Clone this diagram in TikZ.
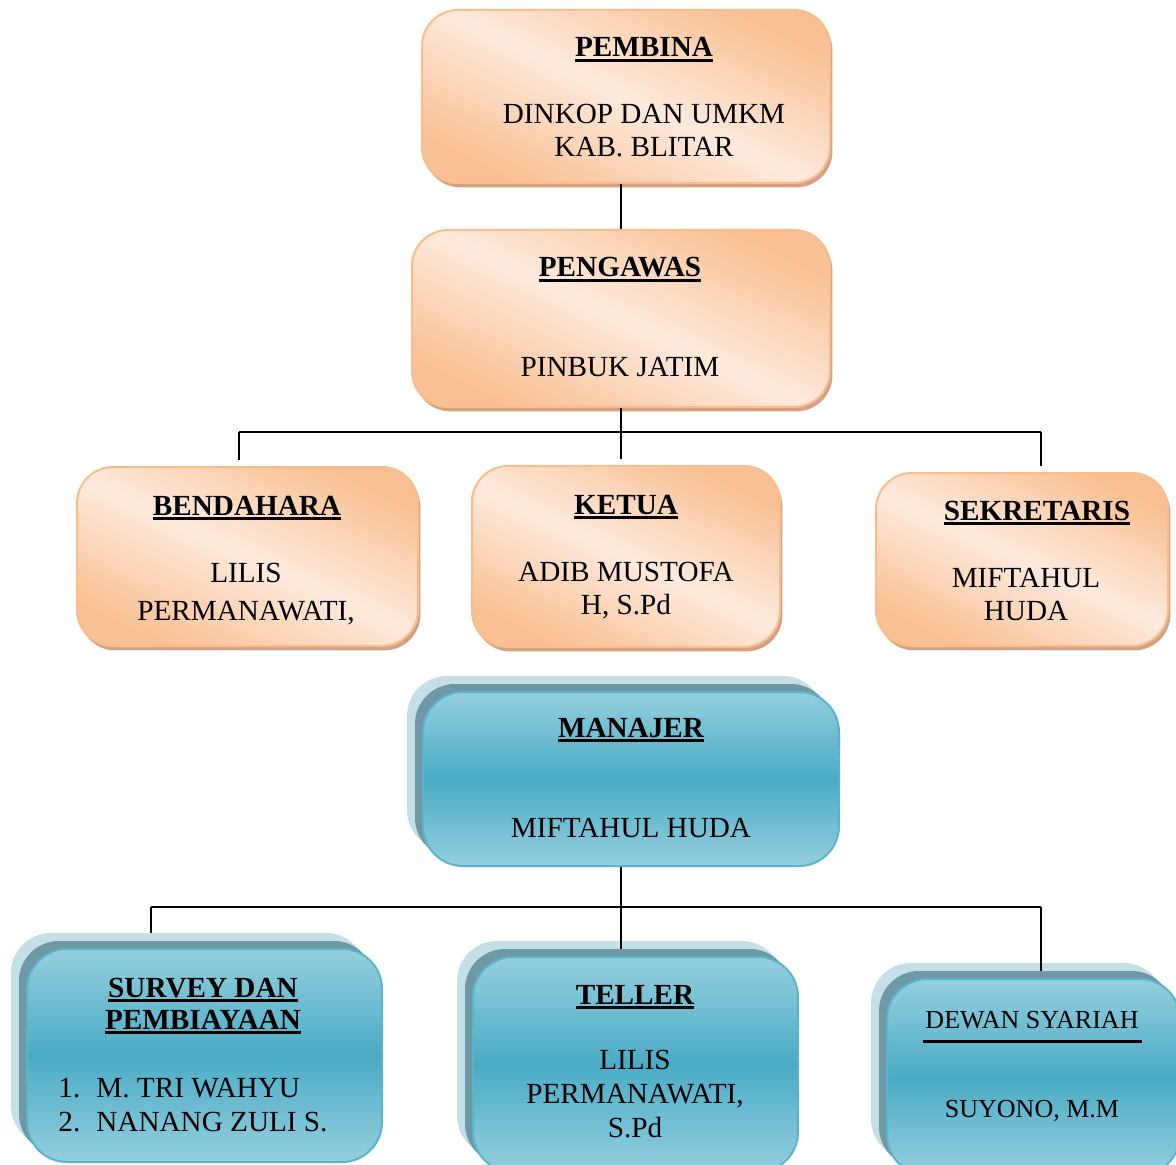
\documentclass[tikz,border=0pt]{standalone}
\usepackage{fontspec}
\setmainfont{Liberation Serif}
\usetikzlibrary{fit,shadows}
\definecolor{orD}{HTML}{F9C093}
\definecolor{orL}{HTML}{FDEADD}
\definecolor{orB}{HTML}{F9BD8D}
\definecolor{orS}{HTML}{D3A283}
\definecolor{blT}{HTML}{95CFDE}
\definecolor{blM}{HTML}{4AABC5}
\definecolor{blE}{HTML}{5BB3CB}
\definecolor{blL}{HTML}{C4DFE6}
\definecolor{blD}{HTML}{6F98A5}
\newcommand\ulb[1]{\sbox0{#1}\leavevmode\rlap{\vrule height -1pt depth 2.4pt width \wd0}\usebox0}
\newcommand\bluebox[5]{%
  \node[blayerlight, fit={(#2-16,#3-16) (#4-16,#5-16)}] (#1-l1) {};
  \node[blayerdark, fit={(#2-8,#3-8) (#4-8,#5-8)}] (#1-l2) {};
  \node[bbox, fit={(#2,#3) (#4,#5)}] (#1) {};}
\begin{document}
\begin{tikzpicture}[x=0.5pt, y=-0.5pt,
  obox/.style={draw=orB, line width=1pt, rounded corners=18pt, inner sep=0pt,
    top color=orD, bottom color=orD, middle color=orL, shading angle=-25,
    drop shadow={shadow xshift=1.2pt, shadow yshift=-2.2pt, fill=orS, opacity=1}},
  bbox/.style={draw=blE, line width=1pt, rounded corners=20pt, inner sep=0pt,
    top color=blT, bottom color=blT, middle color=blM},
  blayerlight/.style={fill=blL, rounded corners=20pt, inner sep=0pt},
  blayerdark/.style={fill=blD, rounded corners=20pt, inner sep=0pt},
  txt/.style={font=\fontsize{14.6}{17}\selectfont, align=center, inner sep=0pt, anchor=base},
  ttl/.style={txt, font=\fontsize{14.6}{16}\selectfont\bfseries},
  conn/.style={draw=black, line width=1pt},
  short/.style={shorten >=3pt}]
\useasboundingbox (0,0) rectangle (1176,1165);

% orange boxes
\node[obox, fit={(422,10) (830,183)}] (pembina) {};
\node[obox, fit={(412,230) (830,407)}] (pengawas) {};
\node[obox, fit={(77,467) (418,646)}] (bendahara) {};
\node[obox, fit={(472,466) (780,647)}] (ketua) {};
\node[obox, fit={(876,473) (1168,646)}] (sekretaris) {};

% blue boxes
\bluebox{manajer}{423}{692}{839}{866}
\bluebox{survey}{27}{949}{382}{1162}
\bluebox{teller}{473}{957}{798}{1172}
\bluebox{dewan}{887}{979}{1180}{1175}

% texts (base anchor of a multi-line node = baseline of its last line)
\node[ttl] (t-pembina) at (644,57) {\ulb{PEMBINA}};
\node[txt] (b-pembina) at (644,157) {DINKOP DAN UMKM\\[-0.5pt]KAB. BLITAR};
\node[ttl] (t-pengawas) at (620,277) {\ulb{PENGAWAS}};
\node[txt] (b-pengawas) at (620,377) {PINBUK JATIM};
\node[ttl] (t-bendahara) at (247,515) {\ulb{BENDAHARA}};
\node[txt] (b-bendahara) at (246,620) {LILIS\\[2pt]PERMANAWATI,};
\node[ttl] (t-ketua) at (626,514) {\ulb{KETUA}};
\node[txt] (b-ketua) at (626,614) {ADIB MUSTOFA\\[-0.5pt]H, S.Pd};
\node[ttl] (t-sekretaris) at (1037,520) {\ulb{SEKRETARIS}};
\node[txt] (b-sekretaris) at (1026,620) {MIFTAHUL\\[-0.5pt]HUDA};
\node[ttl] (t-manajer) at (631,737) {\ulb{MANAJER}};
\node[txt] (b-manajer) at (631,837) {MIFTAHUL HUDA};
\node[ttl] (t-survey) at (203,1029) {\ulb{SURVEY DAN}\\\ulb{PEMBIAYAAN}};
\node[txt, align=left, anchor=base west] (b-survey) at (58,1131)
  {\makebox[19pt][l]{1.}M. TRI WAHYU\\\makebox[19pt][l]{2.}NANANG ZULI S.};
\node[ttl] (t-teller) at (635,1004) {\ulb{TELLER}};
\node[txt] (b-teller) at (635,1137) {LILIS\\PERMANAWATI,\\S.Pd};
\node[txt, font=\fontsize{13}{15}\selectfont] (t-dewan) at (1032,1028) {DEWAN SYARIAH};
\draw[line width=1.3pt] (923,1041.5) -- (1142,1041.5);
\node[txt, font=\fontsize{13}{15}\selectfont] (b-dewan) at (1032,1117) {SUYONO, M.M};

% connectors
\coordinate (b1l) at (239,432);
\coordinate (b1c) at (621,432);
\coordinate (b1r) at (1041,432);
\draw[conn] (b1c |- pembina.south) -- (b1c |- pengawas.north);
\draw[conn] (b1c |- pengawas.south) -- (b1c);
\draw[conn] (b1l) -- (b1r);
\draw[conn, short] (b1l) -- (b1l |- bendahara.north);
\draw[conn, short] (b1c) -- (b1c |- ketua.north);
\draw[conn, short] (b1r) -- (b1r |- sekretaris.north);

\coordinate (b2l) at (151,907);
\coordinate (b2c) at (621,907);
\coordinate (b2r) at (1041,907);
\draw[conn] (b2c |- manajer.south) -- (b2c);
\draw[conn] (b2l) -- (b2r);
\draw[conn] (b2l) -- (b2l |- survey-l1.north);
\draw[conn] (b2c) -- (b2c |- teller-l2.north);
\draw[conn] (b2r) -- (b2r |- dewan-l2.north);
\end{tikzpicture}
\end{document}
